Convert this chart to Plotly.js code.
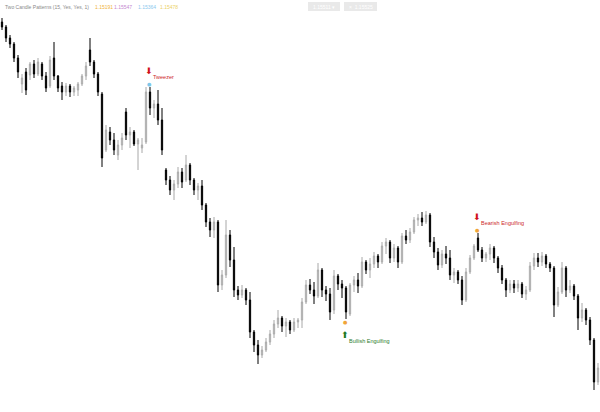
<!DOCTYPE html>
<html>
<head>
<meta charset="utf-8">
<script src="https://cdn.plot.ly/plotly-3.0.1.min.js"></script>
<style>html,body{margin:0;padding:0;background:#fff;}#chart{width:600px;height:412px;}</style>
</head>
<body>
<div id="chart"></div>
<script>
// ---- data (15-minute candles) ----
const openP = [1.1778,1.1773,1.1762,1.1756,1.1742,1.1716,1.1728,1.1725,1.1736,1.1726,1.1736,1.1724,1.1714,1.1742,1.1724,1.1714,1.1708,1.1714,1.1708,1.1710,
1.1716,1.1724,1.1750,1.1738,1.1726,1.1706,1.1650,1.1668,1.1660,1.1645,1.1655,1.1688,1.1665,1.1668,1.1656,1.1652,1.1658,1.1708,1.1692,1.1696,
1.1680,1.1630,1.1620,1.1610,1.1616,1.1628,1.1620,1.1635,1.1620,1.1610,1.1614,1.1595,1.1578,1.1570,1.1578,1.1515,1.1525,1.1565,1.1540,1.1510,
1.1505,1.1510,1.1500,1.1468,1.1455,1.1445,1.1450,1.1458,1.1466,1.1476,1.1482,1.1474,1.1478,1.1470,1.1478,1.1480,1.1498,1.1515,1.1510,1.1504,
1.1530,1.1510,1.1506,1.1490,1.1524,1.1516,1.1512,1.1486,1.1515,1.1520,1.1514,1.1538,1.1530,1.1536,1.1544,1.1538,1.1554,1.1558,1.1542,1.1552,
1.1538,1.1564,1.1560,1.1568,1.1580,1.1582,1.1578,1.1585,1.1558,1.1548,1.1535,1.1546,1.1542,1.1525,1.1528,1.1520,1.1500,1.1528,1.1542,1.1562,
1.1550,1.1542,1.1546,1.1552,1.1542,1.1532,1.1520,1.1510,1.1516,1.1512,1.1516,1.1506,1.1510,1.1534,1.1542,1.1538,1.1544,1.1536,1.1532,1.1495,
1.1508,1.1532,1.1510,1.1514,1.1504,1.1482,1.1490,1.1480,1.1460,1.1418];
const highP = [1.1782,1.1775,1.1765,1.1758,1.1745,1.1726,1.1732,1.1738,1.1740,1.1742,1.1738,1.1728,1.1744,1.1758,1.1725,1.1718,1.1717,1.1716,1.1714,1.1718,
1.1726,1.1738,1.1762,1.1740,1.1728,1.1708,1.1675,1.1673,1.1667,1.1660,1.1667,1.1692,1.1673,1.1670,1.1662,1.1662,1.1713,1.1713,1.1700,1.1710,
1.1692,1.1632,1.1624,1.1620,1.1633,1.1632,1.1645,1.1637,1.1622,1.1617,1.1620,1.1597,1.1582,1.1583,1.1580,1.1530,1.1580,1.1570,1.1553,1.1514,
1.1515,1.1512,1.1508,1.1470,1.1460,1.1454,1.1462,1.1470,1.1480,1.1490,1.1484,1.1482,1.1480,1.1482,1.1482,1.1502,1.1520,1.1521,1.1518,1.1537,
1.1532,1.1514,1.1512,1.1530,1.1526,1.1520,1.1514,1.1517,1.1524,1.1527,1.1543,1.1540,1.1542,1.1548,1.1546,1.1558,1.1562,1.1560,1.1556,1.1554,
1.1567,1.1570,1.1572,1.1583,1.1586,1.1588,1.1589,1.1587,1.1563,1.1552,1.1550,1.1554,1.1550,1.1532,1.1530,1.1524,1.1532,1.1545,1.1556,1.1567,
1.1553,1.1548,1.1556,1.1554,1.1544,1.1535,1.1522,1.1520,1.1520,1.1520,1.1518,1.1514,1.1538,1.1547,1.1547,1.1548,1.1546,1.1538,1.1534,1.1513,
1.1538,1.1534,1.1520,1.1516,1.1506,1.1497,1.1492,1.1483,1.1462,1.1437];
const lowP = [1.1770,1.1758,1.1752,1.1738,1.1722,1.1707,1.1705,1.1720,1.1722,1.1724,1.1720,1.1708,1.1712,1.1720,1.1708,1.1700,1.1704,1.1703,1.1704,1.1704,
1.1714,1.1720,1.1734,1.1722,1.1704,1.1633,1.1648,1.1655,1.1645,1.1640,1.1650,1.1660,1.1652,1.1654,1.1630,1.1647,1.1656,1.1685,1.1682,1.1675,
1.1645,1.1615,1.1605,1.1600,1.1612,1.1612,1.1618,1.1615,1.1605,1.1600,1.1590,1.1573,1.1563,1.1562,1.1508,1.1510,1.1522,1.1533,1.1503,1.1500,
1.1502,1.1495,1.1462,1.1448,1.1436,1.1442,1.1448,1.1455,1.1462,1.1472,1.1468,1.1463,1.1466,1.1468,1.1472,1.1472,1.1496,1.1506,1.1496,1.1502,
1.1503,1.1499,1.1480,1.1486,1.1510,1.1502,1.1481,1.1484,1.1508,1.1507,1.1512,1.1526,1.1522,1.1532,1.1532,1.1536,1.1546,1.1537,1.1538,1.1532,
1.1536,1.1556,1.1557,1.1566,1.1574,1.1574,1.1576,1.1553,1.1542,1.1530,1.1532,1.1536,1.1520,1.1517,1.1516,1.1495,1.1498,1.1526,1.1540,1.1548,
1.1538,1.1538,1.1540,1.1537,1.1527,1.1516,1.1503,1.1507,1.1507,1.1508,1.1502,1.1500,1.1508,1.1530,1.1533,1.1534,1.1532,1.1528,1.1483,1.1493,
1.1506,1.1503,1.1507,1.1500,1.1470,1.1478,1.1475,1.1455,1.1410,1.1415];
const closeP = [1.1773,1.1762,1.1756,1.1742,1.1728,1.1722,1.1710,1.1736,1.1726,1.1738,1.1724,1.1712,1.1740,1.1724,1.1712,1.1708,1.1714,1.1708,1.1712,1.1716,
1.1724,1.1734,1.1738,1.1726,1.1708,1.1642,1.1670,1.1660,1.1650,1.1655,1.1662,1.1665,1.1668,1.1656,1.1660,1.1655,1.1708,1.1692,1.1696,1.1680,
1.1650,1.1620,1.1610,1.1616,1.1628,1.1618,1.1635,1.1620,1.1610,1.1614,1.1595,1.1578,1.1570,1.1578,1.1515,1.1525,1.1565,1.1540,1.1510,1.1505,
1.1510,1.1500,1.1468,1.1455,1.1445,1.1450,1.1458,1.1466,1.1476,1.1482,1.1474,1.1478,1.1470,1.1478,1.1480,1.1498,1.1515,1.1510,1.1504,1.1530,
1.1510,1.1506,1.1488,1.1524,1.1516,1.1512,1.1488,1.1515,1.1520,1.1514,1.1538,1.1530,1.1536,1.1544,1.1538,1.1554,1.1558,1.1542,1.1552,1.1538,
1.1564,1.1560,1.1568,1.1580,1.1582,1.1578,1.1585,1.1558,1.1548,1.1535,1.1546,1.1542,1.1525,1.1528,1.1520,1.1500,1.1528,1.1542,1.1554,1.1550,
1.1542,1.1546,1.1552,1.1542,1.1532,1.1520,1.1510,1.1516,1.1512,1.1516,1.1506,1.1510,1.1534,1.1542,1.1538,1.1544,1.1536,1.1532,1.1495,1.1508,
1.1532,1.1510,1.1514,1.1504,1.1482,1.1490,1.1480,1.1460,1.1418,1.1432];

// detected patterns
const patternIndex = [37, 86, 119];
const patternName  = ["Tweezer", "Bullish Engulfing", "Bearish Engulfing"];
const patternSide  = ["top", "bottom", "top"];
const patternDot   = ["#7ec8ea", "#f0a53a", "#f0a53a"];

// header
const studyTitle = "Two Candle Patterns (15, Yes, Yes, 1)";
const studyValues = ["1.15191", "1.15547", "1.15364", "1.15478"];
const studyColors = ["#f0b43c", "#c58ad0", "#8cc8ee", "#ecd268"];
const boxLabels = ["1.15511 \u25BE", "\u00D7  1.15525"];

const annotations = [];
patternIndex.forEach((idx, k) => {
  const top = patternSide[k] === "top";
  const y = top ? highP[idx] : lowP[idx];
  const arrowCol = top ? "#d0121b" : "#1d7a1d";
  const textCol = top ? "#cc2a2a" : "#2e7d2e";
  const s = top ? 1 : -1;
  annotations.push({x: idx, y: y, xref: "x", yref: "y", text: "\u25CF", showarrow: false,
    font: {size: 5, color: patternDot[k], family: "DejaVu Sans"}, yshift: s * 3, xshift: -1});
  annotations.push({x: idx, y: y, xref: "x", yref: "y", text: top ? "\u2B07" : "\u2B06", showarrow: false,
    font: {size: 9, color: arrowCol, family: "DejaVu Sans"}, yshift: s * 16, xshift: -1});
  annotations.push({x: idx, y: y, xref: "x", yref: "y", text: patternName[k], showarrow: false,
    xanchor: "left", font: {size: 5.5, color: textCol, family: "Liberation Sans"}, yshift: s * (top ? 10 : 22), xshift: 1});
});

// header texts
annotations.push({xref: "paper", yref: "paper", x: 3/600, y: 1 - 7/412, xanchor: "left", yanchor: "middle",
  text: studyTitle, showarrow: false, font: {size: 5, color: "#8a8a8a", family: "Liberation Sans"}});
const valX = [93, 112, 136, 158];
studyValues.forEach((v, k) => annotations.push({xref: "paper", yref: "paper", x: valX[k]/600, y: 1 - 7/412,
  xanchor: "left", yanchor: "middle", text: v, showarrow: false, font: {size: 5, color: studyColors[k], family: "Liberation Sans"}}));
const boxX = [[308, 340], [344, 377]];
const shapes = boxX.map(b => ({type: "rect", xref: "paper", yref: "paper", x0: b[0]/600, x1: b[1]/600,
  y0: 1 - 11/412, y1: 1 - 2/412, fillcolor: "#e9e9e9", line: {width: 0}, layer: "above"}));
boxLabels.forEach((t, k) => annotations.push({xref: "paper", yref: "paper", x: (boxX[k][0] + boxX[k][1]) / 1200,
  y: 1 - 6.5/412, xanchor: "center", yanchor: "middle", text: t, showarrow: false,
  font: {size: 5, color: "#ffffff", family: "Liberation Sans"}}));

const trace = {
  type: "candlestick",
  open: openP, high: highP, low: lowP, close: closeP,
  increasing: {line: {color: "#a8a8a8", width: 1}, fillcolor: "#ffffff"},
  decreasing: {line: {color: "#000000", width: 1}, fillcolor: "#000000"},
  whiskerwidth: 0,
  hoverinfo: "skip",
  showlegend: false
};

const layout = {
  width: 600, height: 412,
  margin: {l: 0, r: 0, t: 0, b: 0},
  paper_bgcolor: "#ffffff", plot_bgcolor: "#ffffff",
  boxgap: 0.55,
  xaxis: {range: [-0.5, openP.length - 0.5], visible: false, rangeslider: {visible: false}, fixedrange: true},
  yaxis: {range: [1.1388, 1.18], visible: false, fixedrange: true},
  showlegend: false,
  annotations: annotations,
  shapes: shapes
};

Plotly.newPlot("chart", [trace], layout, {staticPlot: true, displayModeBar: false});
</script>
</body>
</html>
